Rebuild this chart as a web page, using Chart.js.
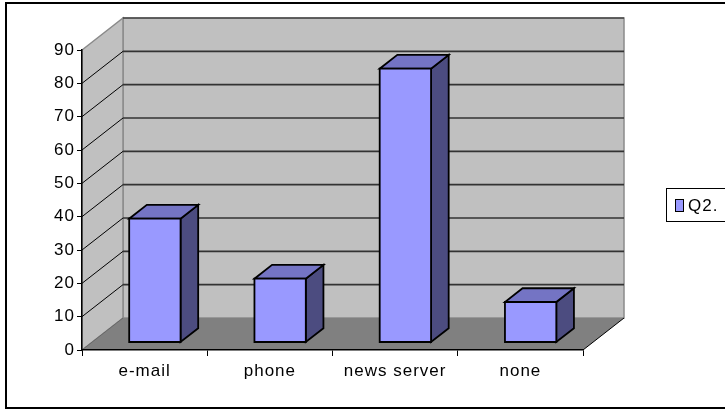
<!DOCTYPE html>
<html lang="en">
<head>
  <meta charset="UTF-8">
  <title>Q2.</title>
  <script src="https://cdn.jsdelivr.net/npm/chart.js"></script>
  <style>
    body {
      margin: 0;
      background: #fff;
    }
  </style>
</head>
<body>
  <canvas id="q2Chart" width="725" height="410"></canvas>

  <script>
    // Answers to Q2.
    const categories = ['e-mail', 'phone', 'news server', 'none'];
    const q2Values = [37, 19, 82, 12];
    const seriesName = 'Q2.';
    const yMax = 90;
    const yStep = 10;

    const FONT = "'Liberation Sans', Arial, sans-serif";
    const FONT_SIZE = 17;
    const LETTER_SPACING = '1px';

    // depth of the 3D box in pixels, and where the bars sit inside it (0 = front, 1 = back)
    const DEPTH_X = 41, DEPTH_Y = -32;
    const BAR_FRONT = 0.25, BAR_BACK = 0.68;

    function poly(ctx, pts, fill, stroke, lw) {
      ctx.beginPath();
      ctx.moveTo(pts[0][0], pts[0][1]);
      for (let i = 1; i < pts.length; i++) ctx.lineTo(pts[i][0], pts[i][1]);
      ctx.closePath();
      if (fill) { ctx.fillStyle = fill; ctx.fill(); }
      if (stroke) { ctx.strokeStyle = stroke; ctx.lineWidth = lw || 1; ctx.stroke(); }
    }

    function line(ctx, x1, y1, x2, y2, color, lw) {
      ctx.beginPath();
      ctx.moveTo(x1, y1);
      ctx.lineTo(x2, y2);
      ctx.strokeStyle = color;
      ctx.lineWidth = lw;
      ctx.stroke();
    }

    // walls, floor and gridlines behind the bars, bars drawn as boxes
    const wallsPlugin = {
      id: 'walls',
      beforeLayout(chart) {
        chart.ctx.letterSpacing = LETTER_SPACING;
      },
      beforeDraw(chart) {
        const { ctx, scales: { x, y } } = chart;
        ctx.letterSpacing = LETTER_SPACING;
        const l = x.left, r = x.right;
        const top = y.getPixelForValue(yMax), bot = y.getPixelForValue(0);
        const dx = DEPTH_X, dy = DEPTH_Y;
        ctx.save();
        // back wall
        poly(ctx, [[l + dx, top + dy], [r + dx, top + dy], [r + dx, bot + dy], [l + dx, bot + dy]], '#c0c0c0', '#8a8a8a', 1.5);
        // side wall
        poly(ctx, [[l, top], [l + dx, top + dy], [l + dx, bot + dy], [l, bot]], '#c0c0c0', '#8a8a8a', 1.5);
        // gridlines on back and side walls
        for (let v = yStep; v < yMax; v += yStep) {
          const py = y.getPixelForValue(v);
          line(ctx, l + dx, py + dy, r + dx, py + dy, '#333', 1.6);
          line(ctx, l, py, l + dx, py + dy, '#000', 1);
        }
        line(ctx, l + dx, top + dy, r + dx, top + dy, '#1a1a1a', 1);
        // floor
        poly(ctx, [[l, bot], [r, bot], [r + dx, bot + dy], [l + dx, bot + dy]], '#808080', null);
        line(ctx, r, bot, r + dx, bot + dy, '#000', 1);
        line(ctx, l, bot, l + dx, bot + dy, '#666', 1);
        ctx.restore();
      },
      beforeDatasetsDraw(chart) {
        const { ctx, scales: { y } } = chart;
        const meta = chart.getDatasetMeta(0);
        const f = BAR_BACK - BAR_FRONT;
        const ox = DEPTH_X * BAR_FRONT, oy = DEPTH_Y * BAR_FRONT;
        const bx = DEPTH_X * f, by = DEPTH_Y * f;
        ctx.save();
        ctx.lineJoin = 'miter';
        meta.data.forEach((bar, i) => {
          const x0 = bar.x - bar.width / 2 + ox, x1 = bar.x + bar.width / 2 + ox;
          const yt = y.getPixelForValue(q2Values[i]) + oy, yb = y.getPixelForValue(0) + oy;
          // side face
          poly(ctx, [[x1, yt], [x1 + bx, yt + by], [x1 + bx, yb + by], [x1, yb]], '#4c4c80', '#000', 1.8);
          // top face
          poly(ctx, [[x0, yt], [x1, yt], [x1 + bx, yt + by], [x0 + bx, yt + by]], '#7474c4', '#000', 1.8);
          // front face
          poly(ctx, [[x0, yt], [x1, yt], [x1, yb], [x0, yb]], '#9999ff', '#000', 1.8);
        });
        ctx.restore();
        return false;
      },
      afterDraw(chart) {
        const ctx = chart.ctx;
        ctx.save();
        // outer frame
        ctx.strokeStyle = '#000';
        ctx.lineWidth = 2;
        ctx.strokeRect(6, 3, 740, 405);
        // legend
        ctx.lineWidth = 1;
        ctx.strokeRect(666.5, 188.5, 80, 33);
        ctx.fillStyle = chart.data.datasets[0].backgroundColor;
        ctx.fillRect(675.5, 199.5, 8, 12);
        ctx.strokeRect(675.5, 199.5, 8, 12);
        ctx.fillStyle = '#000';
        ctx.font = FONT_SIZE + 'px ' + FONT;
        ctx.letterSpacing = LETTER_SPACING;
        ctx.textBaseline = 'middle';
        ctx.fillText(chart.data.datasets[0].label, 688, 206);
        ctx.restore();
      }
    };

    const ctx = document.getElementById('q2Chart').getContext('2d');
    const q2Chart = new Chart(ctx, {
      type: 'bar',
      data: {
        labels: categories,
        datasets: [{
          label: seriesName,
          data: q2Values,
          backgroundColor: '#9999ff',
          borderColor: '#000',
          borderWidth: 1,
          barPercentage: 0.41,
          categoryPercentage: 1
        }]
      },
      options: {
        responsive: false,
        animation: false,
        layout: {
          padding: { top: 50, right: 142, left: 0, bottom: 0 }
        },
        plugins: {
          legend: { display: false },
          tooltip: { enabled: false }
        },
        scales: {
          x: {
            afterFit: s => { s.height = 60; },
            border: { display: true, color: '#000', width: 1.5 },
            grid: { display: true, drawOnChartArea: false, offset: true, tickLength: 6, color: '#000' },
            ticks: { color: '#000', padding: 5, font: { family: FONT, size: FONT_SIZE } }
          },
          y: {
            min: 0,
            max: yMax,
            afterFit: s => { s.width = 82; },
            border: { display: true, color: '#000', width: 1.5 },
            grid: { display: true, drawOnChartArea: false, tickLength: 5, color: '#000' },
            ticks: { stepSize: yStep, color: '#000', padding: 2, font: { family: FONT, size: FONT_SIZE } }
          }
        }
      },
      plugins: [wallsPlugin]
    });
  </script>
</body>
</html>
